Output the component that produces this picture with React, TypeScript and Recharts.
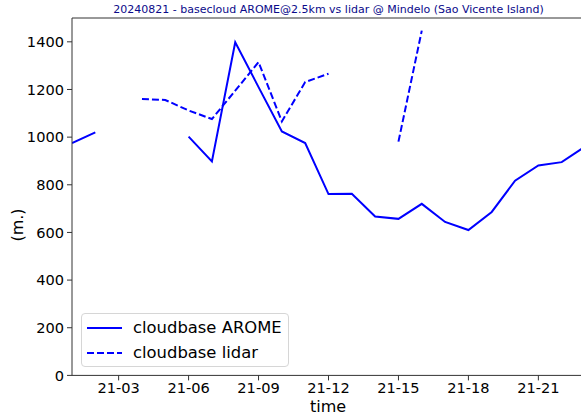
import { LineChart, Line, XAxis, YAxis, ReferenceLine } from "recharts";

// hours of 2024-08-21
const hours = [1, 2, 3, 4, 5, 6, 7, 8, 9, 10, 11, 12, 13, 14, 15, 16, 17, 18, 19, 20, 21, 22, 23];
const arome = [975, 1020, null, null, null, 1002, 898, 1398, 1210, 1024, 975, 761, 762, 667, 657, 720, 644, 610, 686, 817, 881, 895, 960];
const lidar = [null, null, null, 1160, 1156, 1112, 1076, 1195, 1315, 1066, 1231, 1266, null, null, 981, 1447, null, null, null, null, null, null, null];
const xTicks = [3, 6, 9, 12, 15, 18, 21];
const yTicks = [0, 200, 400, 600, 800, 1000, 1200, 1400];

const data = hours.map((h, i) => ({ h, arome: arome[i], lidar: lidar[i] }));

const FONT = "DejaVu Sans";
const BLUE = "#0000ff";
const AXIS = "#333";

const fmtHour = (h: number) => `21-${String(h).padStart(2, "0")}`;

function LegendBox() {
  const row = (label: string, dash?: string) => (
    <div style={{ display: "flex", alignItems: "center", height: 25 }}>
      <svg width={40} height={10} style={{ marginLeft: 4 }}>
        <line x1={1} y1={5} x2={36} y2={5} stroke={BLUE} strokeWidth={2} strokeDasharray={dash} />
      </svg>
      <span style={{ fontSize: 16.4, marginLeft: 7, color: "#000", whiteSpace: "nowrap" }}>{label}</span>
    </div>
  );
  return (
    <div
      style={{
        position: "absolute",
        left: 81,
        top: 313,
        width: 208,
        height: 54,
        border: "1px solid #d6d6d6",
        borderRadius: 4,
        background: "rgba(255,255,255,0.8)",
        fontFamily: FONT,
        paddingTop: 1,
        boxSizing: "border-box",
      }}
    >
      {row("cloudbase AROME")}
      {row("cloudbase lidar", "7 3")}
    </div>
  );
}

export default function App() {
  return (
    <div style={{ position: "absolute", left: 0, top: 0, width: 581, height: 417, overflow: "hidden", background: "#fff", fontFamily: FONT }}>
      <div style={{ position: "absolute", left: 0, width: 657, top: 3, textAlign: "center", fontSize: 11, color: "#0a0a8a", whiteSpace: "nowrap" }}>
        20240821 - basecloud AROME@2.5km vs lidar @ Mindelo (Sao Vicente Island)
      </div>
      <div style={{ position: "absolute", left: 17, top: 225, transform: "translate(-50%, -50%) rotate(-90deg)", fontSize: 16, whiteSpace: "nowrap" }}>
        (m.)
      </div>
      <div style={{ position: "absolute", left: 328, top: 406, transform: "translate(-50%, -50%)", fontSize: 16 }}>time</div>
      <LineChart width={600} height={417} data={data} margin={{ top: 18, right: 15, bottom: 0, left: 0 }}>
        <XAxis
          dataKey="h"
          type="number"
          domain={[1, 23]}
          ticks={xTicks}
          tickFormatter={fmtHour}
          height={41.6}
          tickSize={5}
          tickMargin={2}
          stroke={AXIS}
          tick={{ fill: "#000", fontSize: 14.6, fontFamily: FONT }}
          allowDataOverflow
        />
        <YAxis
          type="number"
          domain={[0, 1500]}
          ticks={yTicks}
          width={72}
          tickSize={5}
          tickMargin={3}
          stroke={AXIS}
          tick={{ fill: "#000", fontSize: 14.6, fontFamily: FONT }}
          allowDataOverflow
        />
        <ReferenceLine y={1500} stroke={AXIS} />
        <Line dataKey="arome" name="cloudbase AROME" stroke={BLUE} strokeWidth={2} dot={false} connectNulls={false} isAnimationActive={false} />
        <Line dataKey="lidar" name="cloudbase lidar" stroke={BLUE} strokeWidth={2} strokeDasharray="7 3" dot={false} connectNulls={false} isAnimationActive={false} />
      </LineChart>
      <LegendBox />
    </div>
  );
}
